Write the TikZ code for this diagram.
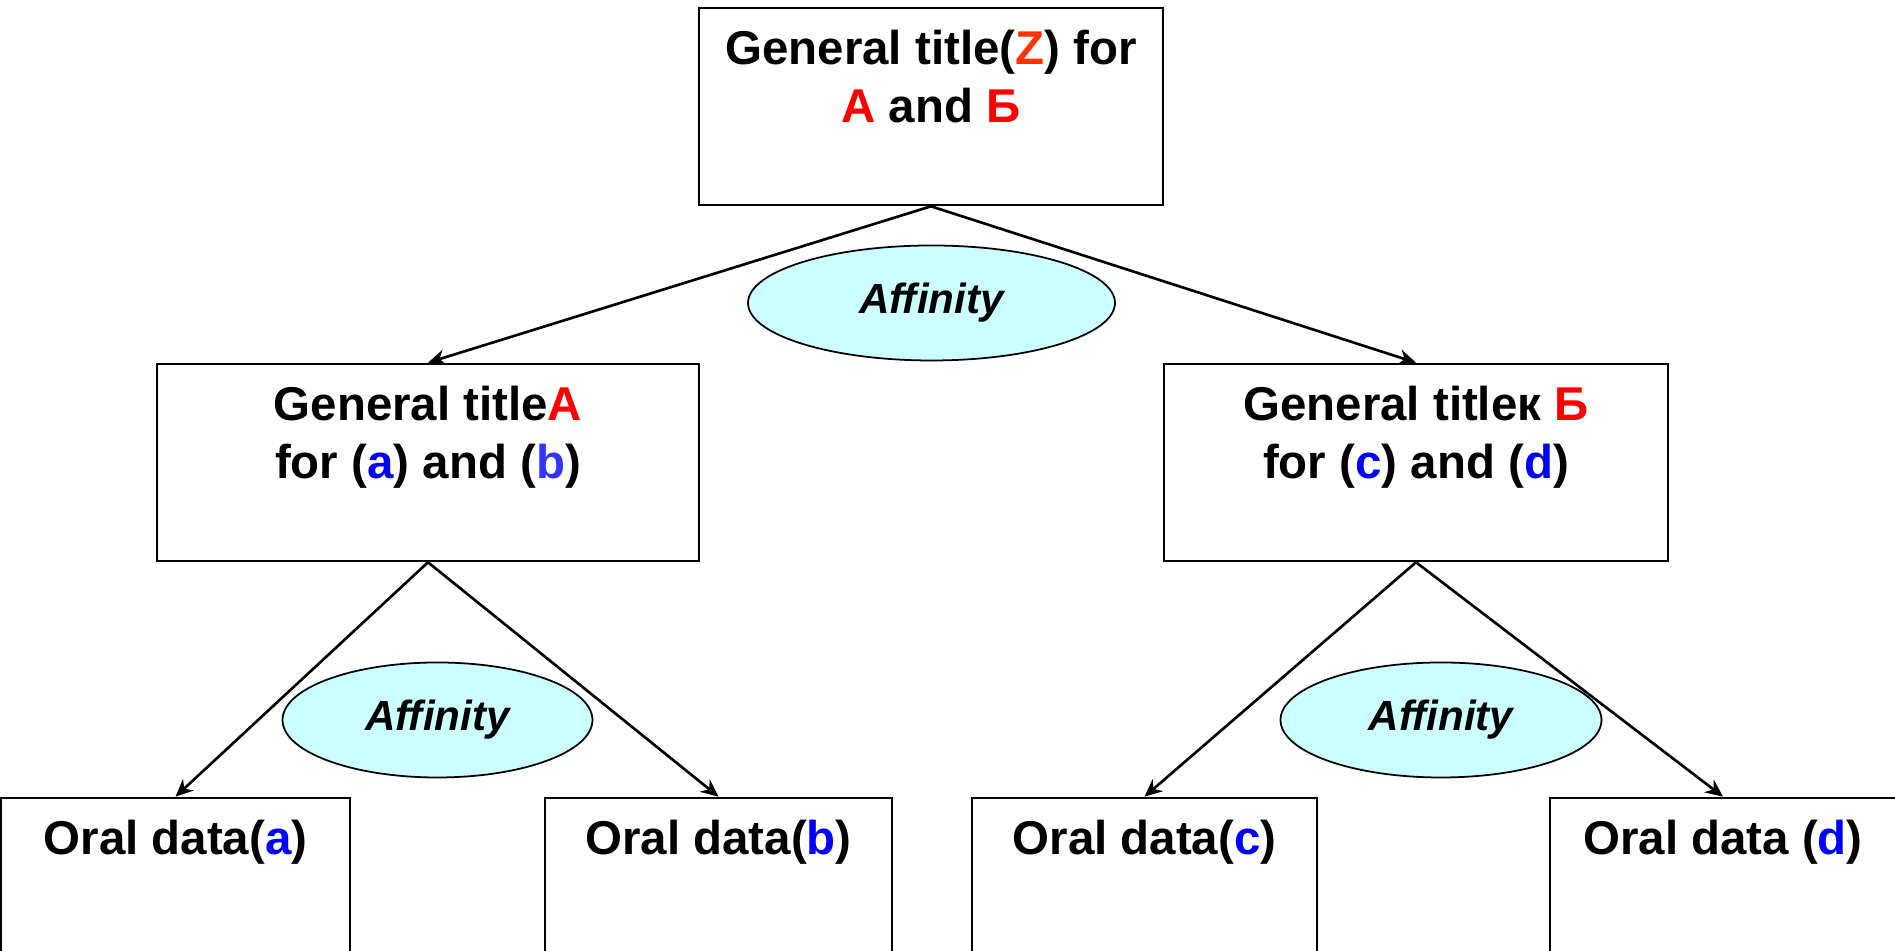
\documentclass[tikz,border=0pt]{standalone}
\usepackage{fontspec}
\setmainfont{Liberation Sans}
\usetikzlibrary{shapes.geometric,arrows.meta}
\definecolor{hotred}{RGB}{255,0,0}
\definecolor{zred}{RGB}{255,51,0}
\definecolor{letterblue}{RGB}{0,0,255}
\definecolor{softblue}{RGB}{51,51,255}
\definecolor{palecyan}{RGB}{204,255,255}
\newcommand{\rd}[1]{\textcolor{hotred}{#1}}
\newcommand{\bl}[1]{\textcolor{letterblue}{#1}}

\tikzset{
  box/.style={draw, line width=0.75pt, minimum height=1.97cm, inner sep=0pt},
  oral/.style={box, minimum height=2.5cm},
  title/.style={anchor=north, yshift=-6.6pt, align=center, inner sep=0pt,
                font=\fontsize{13.5}{16.5}\selectfont\bfseries},
  bond/.style={draw, ellipse, fill=palecyan, line width=0.5pt, inner sep=0pt,
               minimum height=1.15cm, font=\fontsize{12}{14}\selectfont\bfseries\itshape},
  link/.style={-{Stealth[length=5pt,width=4.5pt]}, line width=0.75pt}
}

\begin{document}
\begin{tikzpicture}
          \clip (0,0) rectangle (18.95,-9.51);

          \node[box, minimum width=4.64cm,
                label={[title]north:General title(\textcolor{zred}{Z}) for\\\rd{А} and \rd{Б}}]
                (z) at (9.31,-1.065) {};
          \node[box, minimum width=5.42cm,
                label={[title]north:General title\rd{А}\\for (\bl{a}) and (\textcolor{softblue}{b})}]
                (A) at (4.28,-4.625) {};
          \node[box, minimum width=5.04cm,
                label={[title]north:General titleк \rd{Б}\\for (\bl{c}) and (\bl{d})}]
                (B) at (14.16,-4.625) {};

          \node[oral, minimum width=3.49cm, label={[title]north:Oral data(\bl{a})}]
                (a) at (1.755,-9.23) {};
          \node[oral, minimum width=3.47cm, label={[title]north:Oral data(\bl{b})}]
                (b) at (7.185,-9.23) {};
          \node[oral, minimum width=3.45cm, label={[title]north:Oral data(\bl{c})}]
                (c) at (11.445,-9.23) {};
          \node[oral, minimum width=3.46cm, label={[title]north:Oral data (\bl{d})}]
                (d) at (17.23,-9.23) {};

          \node[bond, minimum width=3.67cm]  (zbond) at (9.315,-3.03) {Affinity};
          \node[bond, minimum width=3.1cm]   (abond) at (4.375,-7.2)  {Affinity};
          \node[bond, minimum width=3.21cm]  (bbond) at (14.41,-7.2)  {Affinity};

          \draw[link] (z.south) -- (A.north);
          \draw[link] (z.south) -- (B.north);
          \draw[link] (A.south) -- (a.north);
          \draw[link] (A.south) -- (b.north);
          \draw[link] (B.south) -- (c.north);
          \draw[link] (B.south) -- (d.north);
      \end{tikzpicture}
\end{document}
